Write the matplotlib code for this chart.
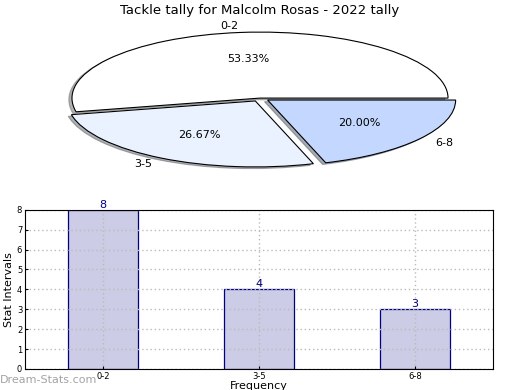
import matplotlib
matplotlib.use("Agg")
import matplotlib.pyplot as plt

# data
labels = ["0-2", "3-5", "6-8"]
counts = [8, 4, 3]
pie_colors = ["#FFFFFF", "#EAF1FF", "#C4D8FF"]
explode = [0, 0.05, 0.05]

fig = plt.figure(figsize=(5.2, 3.9), dpi=100)

# squashed pie on top
ax1 = fig.add_axes([0.048, 0.537, 0.904, 0.423])
ax1.pie(counts, labels=labels, colors=pie_colors, explode=explode,
        autopct="%.2f%%", startangle=0, counterclock=True,
        shadow={"ox": -0.012, "oy": -0.018, "shade": 0.6},
        wedgeprops={"edgecolor": "black", "linewidth": 0.8},
        textprops={"fontsize": 8})
ax1.set_aspect("auto")
ax1.set_xlim(-1.25, 1.25)
ax1.set_ylim(-1.25, 1.25)
fig.text(0.5, 0.974, "Tackle tally for Malcolm Rosas - 2022 tally",
         ha="center", va="center", fontsize=9.5)

# bar chart below
ax2 = fig.add_axes([0.048, 0.054, 0.9, 0.408])
x = range(len(labels))
ax2.bar(x, counts, width=0.45, color="#CCCCE6", edgecolor="#000080", linewidth=0.9)
for i, v in enumerate(counts):
    ax2.text(i, v, str(v), ha="center", va="bottom", color="#000080", fontsize=8)
ax2.set_xlim(-0.5, 2.5)
ax2.set_ylim(0, 8)
ax2.set_xticks(list(x))
ax2.set_xticklabels(labels)
ax2.set_yticks(range(0, 9))
ax2.tick_params(labelsize=6, length=2, direction="in", pad=2)
ax2.grid(True, linestyle=(0, (1, 2)), color="#BBBBBB", linewidth=1)
ax2.set_axisbelow(False)
for sp in ax2.spines.values():
    sp.set_zorder(5)
ax2.set_ylabel("Stat Intervals", fontsize=8, labelpad=2)
ax2.set_xlabel("Frequency", fontsize=8, labelpad=0)

fig.text(0.0, 0.025, "Dream-Stats.com", color="#999999", fontsize=8,
         ha="left", va="center", alpha=0.9)

fig.savefig("out.png", dpi=100)
